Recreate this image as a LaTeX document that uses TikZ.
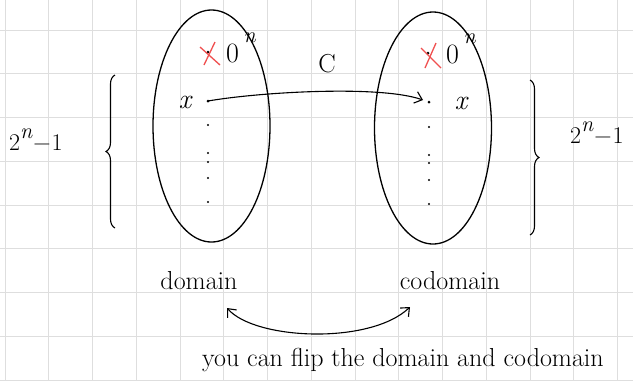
\documentclass[tikz,border=0pt]{standalone}
\usetikzlibrary{shapes.geometric,arrows.meta,decorations.pathreplacing}
\definecolor{gridgray}{RGB}{222,222,222}
\definecolor{markred}{RGB}{240,80,80}
\newcommand{\supn}[1]{\raisebox{#1}{\fontsize{22}{24}\selectfont\itshape n}}
\begin{document}
\begin{tikzpicture}[x=1pt,y=-1pt,
  gridline/.style={draw=gridgray,line width=1pt},
  setell/.style={draw,ellipse,line width=1.3pt,inner sep=0pt,minimum width=117pt,minimum height=232pt},
  elem/.style={circle,fill,inner sep=0pt,minimum size=3pt},
  small/.style={circle,fill,inner sep=0pt,minimum size=2.2pt},
  hand/.style={font=\fontsize{28}{32}\selectfont,inner sep=0pt},
  word/.style={font=\fontsize{26}{30}\selectfont,inner sep=0pt},
  cross/.style={draw=markred,line width=1.3pt},
  conn/.style={draw,line width=1.1pt,-{Straight Barb[length=7pt,width=12pt,line width=1.1pt]}},
  dconn/.style={draw,line width=1.1pt,{Straight Barb[length=7pt,width=12pt,line width=1.1pt]}-{Straight Barb[length=7pt,width=12pt,line width=1.1pt]}},
  bracepath/.style={draw,line width=1.1pt,decorate,decoration={brace,amplitude=9pt}}
]
\useasboundingbox (0,0) rectangle (633,381);
\fill[white] (0,0) rectangle (633,381);
\foreach \i in {0,...,14} \draw[gridline] (5+43.75*\i,0) -- (5+43.75*\i,381);
\foreach \j in {0,...,8} \draw[gridline] (0,30+43.75*\j) -- (633,30+43.75*\j);

% sets
\node[setell] (dom) at (211.5,126) {};
\node[setell] (cod) at (433,128) {};

% domain elements
\node[elem] (dz) at (208,52) {};
\node[elem] (dx) at (208,101) {};
\node[small] (d1) at (208,125) {};
\node[small] (d2) at (208,153) {};
\node[small] (d3) at (208,162) {};
\node[small] (d4) at (208,178) {};
\node[small] (d5) at (208,202) {};
% codomain elements
\node[elem] (cz) at (428,53) {};
\node[elem] (cx) at (429,102) {};
\node[small] (c1) at (429,127) {};
\node[small] (c2) at (429,155) {};
\node[small] (c3) at (429,163) {};
\node[small] (c4) at (429,180) {};
\node[small] (c5) at (429,204) {};

% red crosses
\draw[cross] ([shift={(-8,-5)}]dz.center) -- ([shift={(12,13)}]dz.center);
\draw[cross] ([shift={(7,-10)}]dz.center) -- ([shift={(-4,13)}]dz.center);
\draw[cross] ([shift={(-7,-5)}]cz.center) -- ([shift={(13,15)}]cz.center);
\draw[cross] ([shift={(8,-10)}]cz.center) -- ([shift={(-3,15)}]cz.center);

% labels
\node[hand,anchor=base west] (dzl) at (226,62) {0\,\supn{20pt}};
\node[hand,anchor=base west] (czl) at (446,63) {0\,\supn{20pt}};
\node[hand] (dxl) at (185,102) {\itshape x};
\node[hand] (cxl) at (461,103) {\itshape x};
\node[hand,font=\fontsize{26}{30}\selectfont] (clab) at (327,64) {C};

% mapping arrow
\coordinate (ctip) at (423,100);
\path[conn] (dx.center) .. controls (260,92) and (380,85) .. (ctip);

% braces
\coordinate (lbb) at (115,228);
\coordinate (lbt) at (115,75);
\coordinate (rbt) at (530,80);
\coordinate (rbb) at (530,235);
\path[bracepath] (lbb) -- (lbt);
\path[bracepath] (rbt) -- (rbb);
\node[hand,font=\fontsize{24}{28}\selectfont,anchor=base west] (lcount) at (9,150) {2\supn{12pt}\kern1pt−\kern1pt1};
\node[hand,font=\fontsize{24}{28}\selectfont,anchor=base west] (rcount) at (570,143) {2\supn{12pt}\kern1pt−\kern1pt1};

% set names
\node[word] (domname) at (199,281) {domain};
\node[word] (codname) at (450,281) {codomain};

% flip arrow
\coordinate (fl) at (227,308);
\coordinate (fr) at (410,307);
\path[dconn] (fl) .. controls (255,340) and (370,345) .. (fr);
\node[word] (note) at (403,360) {you can flip the domain and codomain};
\end{tikzpicture}
\end{document}
